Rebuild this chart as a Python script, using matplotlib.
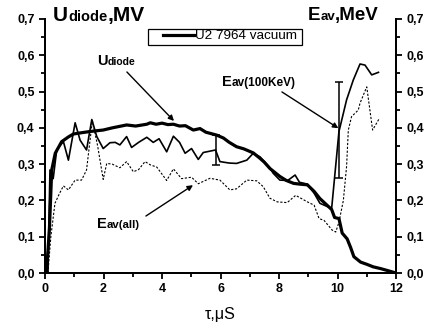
import matplotlib
matplotlib.use("Agg")
import matplotlib.pyplot as plt
from matplotlib.patches import Rectangle
from matplotlib.ticker import MultipleLocator, FuncFormatter
from matplotlib.offsetbox import TextArea, HPacker, AnnotationBbox

FONT = "Liberation Sans"
plt.rcParams["font.family"] = [FONT, "DejaVu Sans"]

# U diode (thick line)
t_u = [0.05, 0.15, 0.23, 0.35, 0.57, 0.8, 0.97, 1.2, 1.54, 1.99, 2.3, 2.79, 3.1, 3.48,
       3.6, 3.8, 4.0, 4.2, 4.39, 4.6, 4.8, 5.07, 5.3, 5.5, 5.87, 6.1, 6.3, 6.55, 6.8,
       7.12, 7.35, 7.49, 7.69, 8.03, 8.25, 8.5, 8.7, 8.97, 9.2, 9.4, 9.6, 9.8, 9.9,
       10.05, 10.16, 10.33, 10.45, 10.56, 10.79, 11.0, 11.22, 11.48, 11.7, 12.0]
u_diode = [0.0, 0.12, 0.284, 0.33, 0.362, 0.375, 0.383, 0.386, 0.39, 0.394, 0.40, 0.408,
           0.405, 0.41, 0.414, 0.41, 0.413, 0.409, 0.41, 0.405, 0.406, 0.394, 0.398, 0.388,
           0.38, 0.372, 0.36, 0.348, 0.342, 0.331, 0.316, 0.306, 0.288, 0.266, 0.255, 0.247,
           0.245, 0.243, 0.225, 0.205, 0.19, 0.175, 0.153, 0.15, 0.11, 0.094, 0.07, 0.045,
           0.03, 0.024, 0.017, 0.012, 0.007, 0.0]

# Eav(100KeV) (thin solid line)
t_100 = [0.1, 0.17, 0.28, 0.4, 0.5, 0.63, 0.8, 1.03, 1.2, 1.42, 1.6, 1.77, 1.99, 2.22,
         2.4, 2.56, 2.79, 2.96, 3.2, 3.48, 3.7, 3.9, 4.16, 4.39, 4.6, 4.79, 5.01, 5.24,
         5.41, 5.83, 5.98, 6.3, 6.55, 6.9, 7.12, 7.35, 7.69, 7.8, 8.03, 8.3, 8.55, 8.7,
         8.97, 9.2, 9.4, 9.8, 10.05, 10.2, 10.31, 10.54, 10.77, 10.94, 11.17, 11.4]
e_100 = [0.0, 0.284, 0.26, 0.339, 0.35, 0.362, 0.311, 0.414, 0.366, 0.339, 0.423, 0.376,
         0.343, 0.359, 0.36, 0.353, 0.376, 0.346, 0.36, 0.374, 0.36, 0.37, 0.334, 0.377,
         0.36, 0.33, 0.343, 0.313, 0.332, 0.339, 0.307, 0.303, 0.302, 0.311, 0.33, 0.32,
         0.29, 0.275, 0.256, 0.255, 0.27, 0.25, 0.245, 0.22, 0.192, 0.178, 0.39, 0.44,
         0.477, 0.532, 0.576, 0.573, 0.546, 0.553]

# error bars on Eav(100KeV)
t_err = [5.83, 10.05]
e_err = [0.339, 0.393]
e_err_half = [0.041, 0.132]

# Eav(all) (dotted line)
t_all = [0.1, 0.2, 0.34, 0.5, 0.63, 0.8, 1.03, 1.25, 1.42, 1.62, 1.8, 1.99, 2.11, 2.3,
         2.56, 2.79, 3.02, 3.2, 3.42, 3.6, 3.82, 4.16, 4.39, 4.67, 5.01, 5.24, 5.64, 5.98,
         6.32, 6.55, 6.9, 7.24, 7.46, 7.69, 7.94, 8.28, 8.57, 8.97, 9.2, 9.37, 9.54, 9.82,
         9.94, 10.05, 10.2, 10.31, 10.37, 10.48, 10.71, 10.77, 11.0, 11.2, 11.43]
e_all = [0.0, 0.1, 0.192, 0.22, 0.24, 0.229, 0.256, 0.256, 0.284, 0.42, 0.35, 0.258, 0.302,
         0.3, 0.29, 0.307, 0.279, 0.285, 0.307, 0.298, 0.292, 0.255, 0.287, 0.26, 0.264,
         0.246, 0.261, 0.256, 0.229, 0.232, 0.256, 0.254, 0.238, 0.206, 0.196, 0.194, 0.214,
         0.196, 0.187, 0.15, 0.145, 0.118, 0.113, 0.14, 0.2, 0.293, 0.394, 0.431, 0.449,
         0.468, 0.513, 0.394, 0.426]

W, H = 428, 324
fig = plt.figure(figsize=(W / 100, H / 100), dpi=100)
ax = fig.add_axes([45 / W, 1 - 273 / H, 351 / W, 254 / H])

ax.plot(t_u, u_diode, color="black", lw=2.3, label="U2 7964 vacuum", zorder=4)
ax.plot(t_100, e_100, color="black", lw=1.2, zorder=3)
ax.errorbar(t_err, e_err, yerr=e_err_half, fmt="none", ecolor="black", elinewidth=1.1,
            capsize=3, capthick=1.1, zorder=3)
ax.plot(t_all, e_all, color="black", lw=0.8, ls=(0, (2, 1.5)), zorder=2)

comma = FuncFormatter(lambda v, p: f"{v:.1f}".replace(".", ","))

ax.set_xlim(0, 12)
ax.set_ylim(0, 0.7)
ax.xaxis.set_major_locator(MultipleLocator(2))
ax.xaxis.set_minor_locator(MultipleLocator(1))
ax.yaxis.set_major_locator(MultipleLocator(0.1))
ax.yaxis.set_minor_locator(MultipleLocator(0.05))
ax.yaxis.set_major_formatter(comma)

ax2 = ax.twinx()
ax2.set_ylim(0, 0.7)
ax2.yaxis.set_major_locator(MultipleLocator(0.1))
ax2.yaxis.set_minor_locator(MultipleLocator(0.05))
ax2.yaxis.set_major_formatter(comma)

for a in (ax, ax2):
    a.spines["top"].set_visible(False)
    for s in a.spines.values():
        s.set_linewidth(1.4)
    a.tick_params(which="both", direction="out", width=1.3, labelsize=9, pad=3)
    a.tick_params(which="major", length=4.5)
    a.tick_params(which="minor", length=3)
    for lab in a.get_xticklabels() + a.get_yticklabels():
        lab.set_fontweight("bold")

ax.set_xlabel("τ,μS", fontsize=11.5, labelpad=8)

# legend: frame drawn separately so its padding can match the original box
ax.add_patch(Rectangle((148 / W, 1 - 45 / H), 154 / W, 16 / H, transform=fig.transFigure,
                       facecolor="white", edgecolor="black", lw=0.9, zorder=4.9,
                       clip_on=False))
ax.legend(loc="upper left", bbox_to_anchor=(163 / W, 1 - 30 / H),
          bbox_transform=fig.transFigure, fontsize=9.7, frameon=False,
          handlelength=2.3, borderpad=0, handletextpad=0.1, borderaxespad=0)


def rich(parts, x, y):
    boxes = [TextArea(s, textprops=dict(fontsize=fs, fontweight="bold", family=FONT))
             for s, fs in parts]
    pack = HPacker(children=boxes, align="baseline", pad=0, sep=0)
    ab = AnnotationBbox(pack, (x, H - y), xycoords="figure pixels", box_alignment=(0, 0),
                        frameon=False, pad=0, annotation_clip=False)
    fig.add_artist(ab)


rich([("U", 15), ("diode", 10.5), (",MV", 15)], 53, 25)
rich([("E", 13.5), ("av", 9.5), (",MeV", 13.5)], 308, 24)
rich([("U", 10.5), ("diode", 7.5)], 97, 68)
rich([("E", 10.5), ("av(100KeV)", 8.5)], 222, 89)
rich([("E", 10.5), ("av(all)", 8.2)], 97, 231)

arrow = dict(arrowstyle="-|>", color="black", lw=1, mutation_scale=8, shrinkA=0, shrinkB=0)
ax.annotate("", xy=(4.41, 0.419), xytext=(2.8, 0.554), arrowprops=arrow)
ax.annotate("", xy=(10.03, 0.399), xytext=(8.1, 0.499), arrowprops=arrow)
ax.annotate("", xy=(5.06, 0.242), xytext=(3.45, 0.157), arrowprops=arrow)

fig.savefig("out.png", dpi=100)
